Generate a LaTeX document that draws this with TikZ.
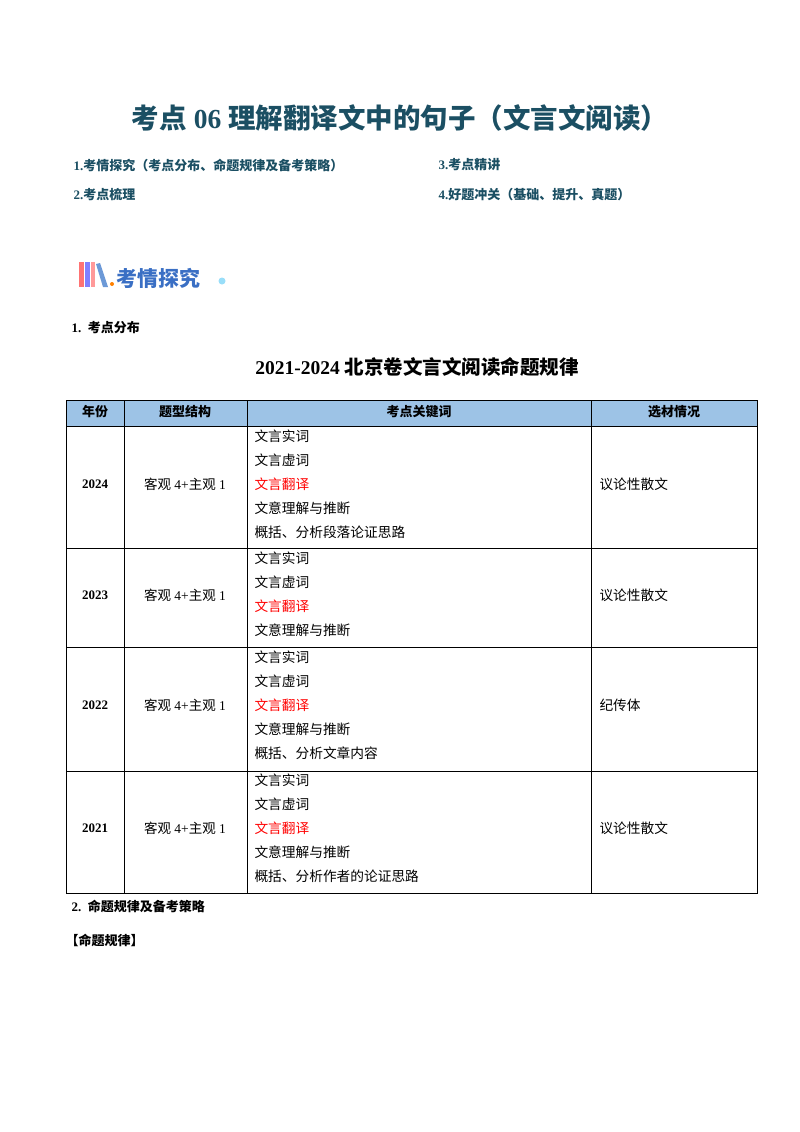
\documentclass[tikz,border=0pt]{standalone}
\usepackage{fontspec}
\setmainfont{Liberation Serif}
\newfontfamily\cjk{Noto Sans CJK SC}
\definecolor{ttl}{HTML}{1B4F63}
\definecolor{hdr}{HTML}{9DC3E6}
\definecolor{ic}{HTML}{3A6FC4}
\begin{document}
\begin{tikzpicture}[x=1pt,y=1pt,
  cell/.style={font=\fontsize{13.5}{15}\selectfont},
  bcell/.style={font=\fontsize{13}{15}\selectfont\bfseries},
  kw/.style={anchor=west,font=\fontsize{13.7}{15}\selectfont\cjk},
  menu/.style={anchor=west,text=ttl,font=\fontsize{13}{15}\selectfont\bfseries}]
\useasboundingbox (0,0) rectangle (800,-1132);
\node[text=ttl,font=\fontsize{27.5}{30}\selectfont\bfseries] (title) at (400,-118) {{\cjk\bfseries 考点} 06 {\cjk\bfseries 理解翻译文中的句子（文言文阅读）}};
\node[menu] (m1) at (70,-165) {1.{\cjk\bfseries 考情探究（考点分布、命题规律及备考策略）}};
\node[menu] (m3) at (435,-165) {3.{\cjk\bfseries 考点精讲}};
\node[menu] (m2) at (70,-195) {2.{\cjk\bfseries 考点梳理}};
\node[menu] (m4) at (435,-195) {4.{\cjk\bfseries 好题冲关（基础、提升、真题）}};
% icon
\fill[red!55] (79,-262) rectangle (84,-287);
\fill[blue!50] (85,-262) rectangle (90,-287);
\fill[red!40] (91,-262) rectangle (95,-287);
\fill[cyan!50!blue!60] (96,-264) -- (100,-263) -- (108,-287) -- (103,-287) -- cycle;
\fill[orange] (112,-284) circle (2);
\node[anchor=west,text=ic,font=\fontsize{21}{24}\selectfont\cjk\bfseries] (ictext) at (113,-278) {考情探究};
\fill[cyan!40] (222,-281) circle (3.5);
\node[anchor=west,font=\fontsize{13}{15}\selectfont\bfseries] (s1) at (68,-328) {1.\ \ {\cjk\bfseries 考点分布}};
\node[font=\fontsize{19.5}{23}\selectfont\bfseries] (tt) at (417,-367) {2021-2024 {\cjk\bfseries 北京卷文言文阅读命题规律}};
% table
\fill[hdr] (66,-400) rectangle (757,-426);
\draw[line width=0.8pt] (66,-400) rectangle (757,-893);
\foreach \y in {-426,-548,-647,-771} \draw[line width=0.6pt] (66,\y) -- (757,\y);
\foreach \x in {124,247,591} \draw[line width=0.6pt] (\x,-400) -- (\x,-893);
\node[bcell] (h1) at (95,-412) {\cjk\bfseries 年份};
\node[bcell] (h2) at (185,-412) {\cjk\bfseries 题型结构};
\node[bcell] (h3) at (419,-412) {\cjk\bfseries 考点关键词};
\node[bcell] (h4) at (674,-412) {\cjk\bfseries 选材情况};
\foreach \yr/\yc/\top/\mat/\last in {2024/-484/-436/议论性散文/概括、分析段落论证思路, 2023/-595/-558/议论性散文/, 2022/-705/-657/纪传体/概括、分析文章内容, 2021/-828/-780/议论性散文/概括、分析作者的论证思路}{
  \node[bcell] (y\yr) at (95,\yc) {\yr};
  \node[cell] (t\yr) at (185,\yc) {{\cjk 客观} 4+{\cjk 主观} 1};
  \node[kw] (k1\yr) at (251,\top) {文言实词};
  \node[kw] (k2\yr) at (251,\top-24) {文言虚词};
  \node[kw,text=red] (k3\yr) at (251,\top-48) {文言翻译};
  \node[kw] (k4\yr) at (251,\top-72) {文意理解与推断};
  \node[kw] (k5\yr) at (251,\top-96) {\last};
  \node[kw] (m\yr) at (596,\yc) {\mat};
}
\node[anchor=west,font=\fontsize{13}{15}\selectfont\bfseries] (s2) at (68,-906) {2.\ \ {\cjk\bfseries 命题规律及备考策略}};
\node[anchor=west,font=\fontsize{13}{15}\selectfont\cjk\bfseries] (s3) at (62,-940) {【命题规律】};
\end{tikzpicture}
\end{document}
